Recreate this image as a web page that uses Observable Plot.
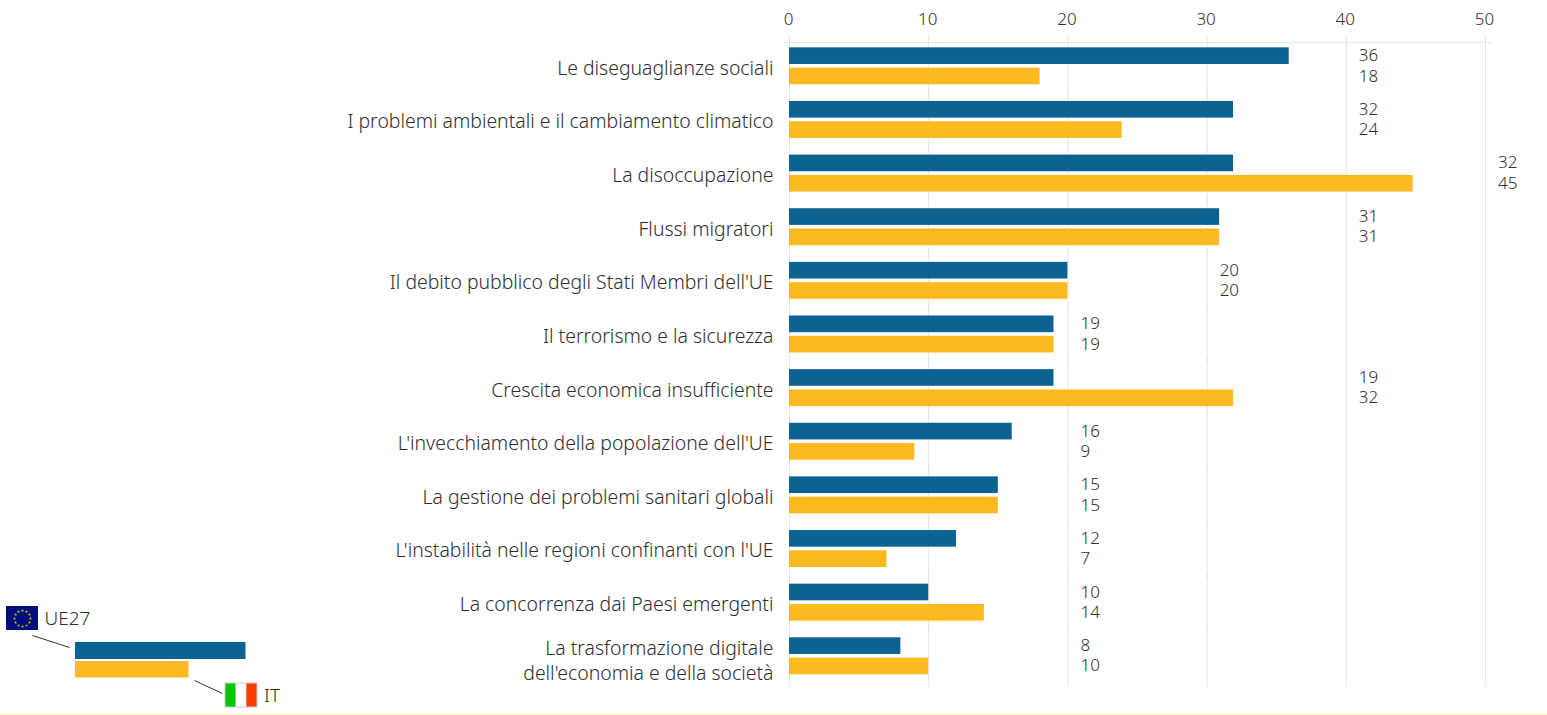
<!DOCTYPE html>
<html><head><meta charset="utf-8">
<script src="https://cdn.jsdelivr.net/npm/d3@7"></script>
<script src="https://cdn.jsdelivr.net/npm/@observablehq/plot@0.6"></script>
<style>
html,body{margin:0;padding:0;background:#fff;overflow:hidden}
#wrap{position:relative;width:1547px;height:715px}
#wrap svg{position:absolute;left:0;background:none;font-family:"Noto Sans",sans-serif;font-weight:300}
#rule{position:absolute;left:0;top:714px;width:1547px;height:1px;background:#feeeb2}
</style></head><body><div id="wrap"><div id="rule"></div></div>
<script>
const categories = [
  "Le diseguaglianze sociali",
  "I problemi ambientali e il cambiamento climatico",
  "La disoccupazione",
  "Flussi migratori",
  "Il debito pubblico degli Stati Membri dell'UE",
  "Il terrorismo e la sicurezza",
  "Crescita economica insufficiente",
  "L'invecchiamento della popolazione dell'UE",
  "La gestione dei problemi sanitari globali",
  "L'instabilità nelle regioni confinanti con l'UE",
  "La concorrenza dai Paesi emergenti",
  "La trasformazione digitale\ndell'economia e della società"
];
// Bar lengths; the printed labels are these rounded.
const ue27 = [35.9, 31.9, 31.9, 30.9, 20, 19, 19, 16, 15, 12, 10, 8];
const it   = [18, 23.9, 44.8, 30.9, 20, 19, 31.9, 9, 15, 7, 14, 10];
const xTicks = [0, 10, 20, 30, 40, 50];
const seriesNames = ["UE27", "IT"];
const seriesColors = ["#0c6291", "#fcba20"];
const ink = "#2e2e2e";

const labelSlot = i => Math.floor(Math.max(Math.round(ue27[i]), Math.round(it[i])) / 10) * 10 + 10.9;
const rows = categories.flatMap((c, i) => [
  {category: c, series: "UE27", value: ue27[i], labelAt: labelSlot(i)},
  {category: c, series: "IT", value: it[i], labelAt: labelSlot(i)}
]);
const oneLine = categories.filter(c => !c.includes("\n"));
const twoLines = categories.filter(c => c.includes("\n"));
const categoryText = {x: 0, fy: d => d, text: d => d, frameAnchor: "middle", textAnchor: "end", dx: -16, fill: ink, fontSize: 19.4, lineHeight: 1.27};

const chart = Plot.plot({
  width: 1547, height: 715,
  marginLeft: 789, marginRight: 62, marginTop: 39, marginBottom: 32.4,
  style: {fontSize: "17px", color: ink, overflow: "visible"},
  x: {domain: [0, 50], axis: null},
  y: {domain: seriesNames, axis: null, paddingInner: 0.18, paddingOuter: 0.41, round: false},
  fy: {domain: categories, axis: null, padding: 0, round: false},
  color: {domain: seriesNames, range: seriesColors},
  marks: [
    Plot.ruleX(xTicks, {x: d => d, stroke: "#e6e6e6", insetTop: -4, insetBottom: -4}),
    Plot.frame({anchor: "top", facet: "super", stroke: "#e6e6e6", dy: 3.2, insetLeft: -6, insetRight: -6}),
    Plot.axisX(xTicks, {anchor: "top", tickSize: 0, tickPadding: 15, fill: ink, fontSize: 17, dx: -1, tickFormat: d => d}),
    Plot.barX(rows, {x: "value", y: "series", fy: "category", fill: "series"}),
    Plot.text(rows, {x: "labelAt", y: "series", fy: "category", text: d => String(Math.round(d.value)), textAnchor: "start", dy: -0.4, fill: ink, fontSize: 17}),
    Plot.text(oneLine, {...categoryText, dy: 0.5}),
    Plot.text(twoLines, {...categoryText, dy: 3.5})
  ]
});
chart.style.top = "0px";
document.getElementById("wrap").appendChild(chart);

// Legend: a small separate plot with schematic key
const legendBars = [
  {name: "UE27", x1: 75, x2: 245.5, y1: 642, y2: 659},
  {name: "IT", x1: 75, x2: 188.5, y1: 661, y2: 677.5}
];
const connectors = [
  {x1: 32, y1: 635, x2: 69, y2: 647},
  {x1: 194, y1: 680, x2: 222, y2: 693}
];
const legendTexts = [
  {text: "UE27", x: 44, y: 618.5},
  {text: "IT", x: 263.5, y: 695.5}
];
const euFlag = {x1: 6, x2: 38, y1: 606, y2: 630};
const itStripes = [
  {x1: 225, x2: 235.7, y1: 683, y2: 707, color: "#00c800"},
  {x1: 235.7, x2: 246.3, y1: 683, y2: 707, color: "#ffffff"},
  {x1: 246.3, x2: 257, y1: 683, y2: 707, color: "#ff3c00"}
];
const starHours = [0, 1, 2, 3, 4, 5, 6, 7, 8, 9, 10, 11];
const legend = Plot.plot({
  width: 300, height: 125, margin: 0,
  x: {domain: [0, 300], range: [0, 300], axis: null},
  y: {domain: [590, 715], range: [0, 125], axis: null},
  marks: [
    Plot.rect(legendBars.slice(0, 1), {x1: "x1", x2: "x2", y1: "y1", y2: "y2", fill: seriesColors[0]}),
    Plot.rect(legendBars.slice(1), {x1: "x1", x2: "x2", y1: "y1", y2: "y2", fill: seriesColors[1]}),
    Plot.link(connectors, {x1: "x1", y1: "y1", x2: "x2", y2: "y2", stroke: "#333", strokeWidth: 1}),
    Plot.rect([euFlag], {x1: "x1", x2: "x2", y1: "y1", y2: "y2", fill: "#000f7c"}),
    Plot.dot(starHours, {x: h => 22 + 8 * Math.sin(h * Math.PI / 6), y: h => 618 - 8 * Math.cos(h * Math.PI / 6), symbol: "star", r: 1, fill: "#e0c000"}),
    Plot.rect(itStripes.slice(0, 1), {x1: "x1", x2: "x2", y1: "y1", y2: "y2", fill: itStripes[0].color}),
    Plot.rect(itStripes.slice(1, 2), {x1: "x1", x2: "x2", y1: "y1", y2: "y2", fill: itStripes[1].color}),
    Plot.rect(itStripes.slice(2), {x1: "x1", x2: "x2", y1: "y1", y2: "y2", fill: itStripes[2].color}),
    Plot.rect([{x1: 225, x2: 257, y1: 683, y2: 707}], {x1: "x1", x2: "x2", y1: "y1", y2: "y2", fill: "none", stroke: "#ccc", strokeWidth: 1}),
    Plot.text(legendTexts, {x: "x", y: "y", text: "text", textAnchor: "start", fill: ink, fontSize: 19})
  ]
});
legend.style.top = "590px";
legend.style.overflow = "visible";
document.getElementById("wrap").appendChild(legend);
</script></body></html>
